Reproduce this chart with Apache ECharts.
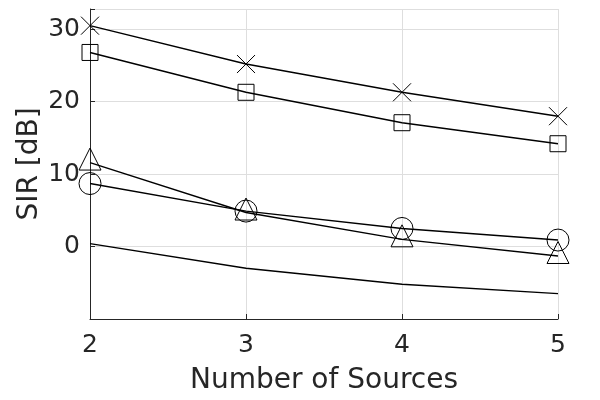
<!DOCTYPE html>
<html>
<head>
<meta charset="utf-8">
<script src="https://cdn.jsdelivr.net/npm/echarts@6/dist/echarts.min.js"></script>
<style>html,body{margin:0;padding:0;background:#fff;}#c{width:600px;height:400px;}</style>
</head>
<body>
<div id="c"></div>
<script>
const xValues = [2, 3, 4, 5];
const crossSeries = [30.5, 25.2, 21.3, 18.0];
const squareSeries = [26.8, 21.3, 17.1, 14.2];
const triangleSeries = [11.6, 4.7, 1.0, -1.3];
const circleSeries = [8.7, 4.9, 2.5, 0.9];
const plainSeries = [0.4, -3.0, -5.2, -6.5];
const yTickLabels = [0, 10, 20, 30];
const xTickLabels = [2, 3, 4, 5];

function pairs(ys) { return xValues.map((x, i) => [x, ys[i]]); }

const font = 'DejaVu Sans';
const textColor = '#262626';

function mk(ys, symbol, size, extra) {
  return Object.assign({
    type: 'line',
    data: pairs(ys),
    symbol: symbol,
    symbolSize: size,
    showSymbol: symbol !== 'none',
    lineStyle: { color: '#000', width: 1.4 },
    itemStyle: { color: 'rgba(0,0,0,0)', borderColor: '#000', borderWidth: 1 },
    emphasis: { disabled: true },
    animation: false,
    z: 3
  }, extra || {});
}

const chart = echarts.init(document.getElementById('c'));
chart.setOption({
  animation: false,
  grid: { left: 90, right: 42, top: 9, bottom: 81, containLabel: false },
  xAxis: {
    type: 'value', min: 2, max: 5, interval: 1,
    name: 'Number of Sources', nameLocation: 'middle', nameGap: 48, nameMoveOverlap: false,
    nameTextStyle: { fontFamily: font, fontSize: 28, color: textColor },
    axisLine: { show: true, onZero: false, lineStyle: { color: textColor, width: 1 } },
    axisTick: { show: true, inside: true, length: 5, lineStyle: { color: textColor } },
    axisLabel: { fontFamily: font, fontSize: 25, color: textColor, margin: 14,
      formatter: v => xTickLabels.includes(v) ? String(v) : '' },
    splitLine: { show: true, lineStyle: { color: '#dedede', width: 1 } }
  },
  yAxis: {
    type: 'value', min: -10, max: 32.8, interval: 10,
    name: 'SIR [dB]', nameLocation: 'middle', nameGap: 46, nameMoveOverlap: false,
    nameTextStyle: { fontFamily: font, fontSize: 28, color: textColor },
    axisLine: { show: true, onZero: false, lineStyle: { color: textColor, width: 1 } },
    axisTick: { show: true, inside: true, length: 5, lineStyle: { color: textColor } },
    axisLabel: { fontFamily: font, fontSize: 25, color: textColor, margin: 10,
      formatter: v => yTickLabels.includes(v) ? String(v) : '' },
    splitLine: { show: true, lineStyle: { color: '#dedede', width: 1 } }
  },
  series: [
    mk(crossSeries, 'path://M0,0L10,10M10,0L0,10', 18),
    mk(squareSeries, 'rect', 16),
    mk(triangleSeries, 'triangle', 22, { symbolOffset: [0, -3.5] }),
    mk(circleSeries, 'circle', 22),
    mk(plainSeries, 'none', 0)
  ]
});
</script>
</body>
</html>
